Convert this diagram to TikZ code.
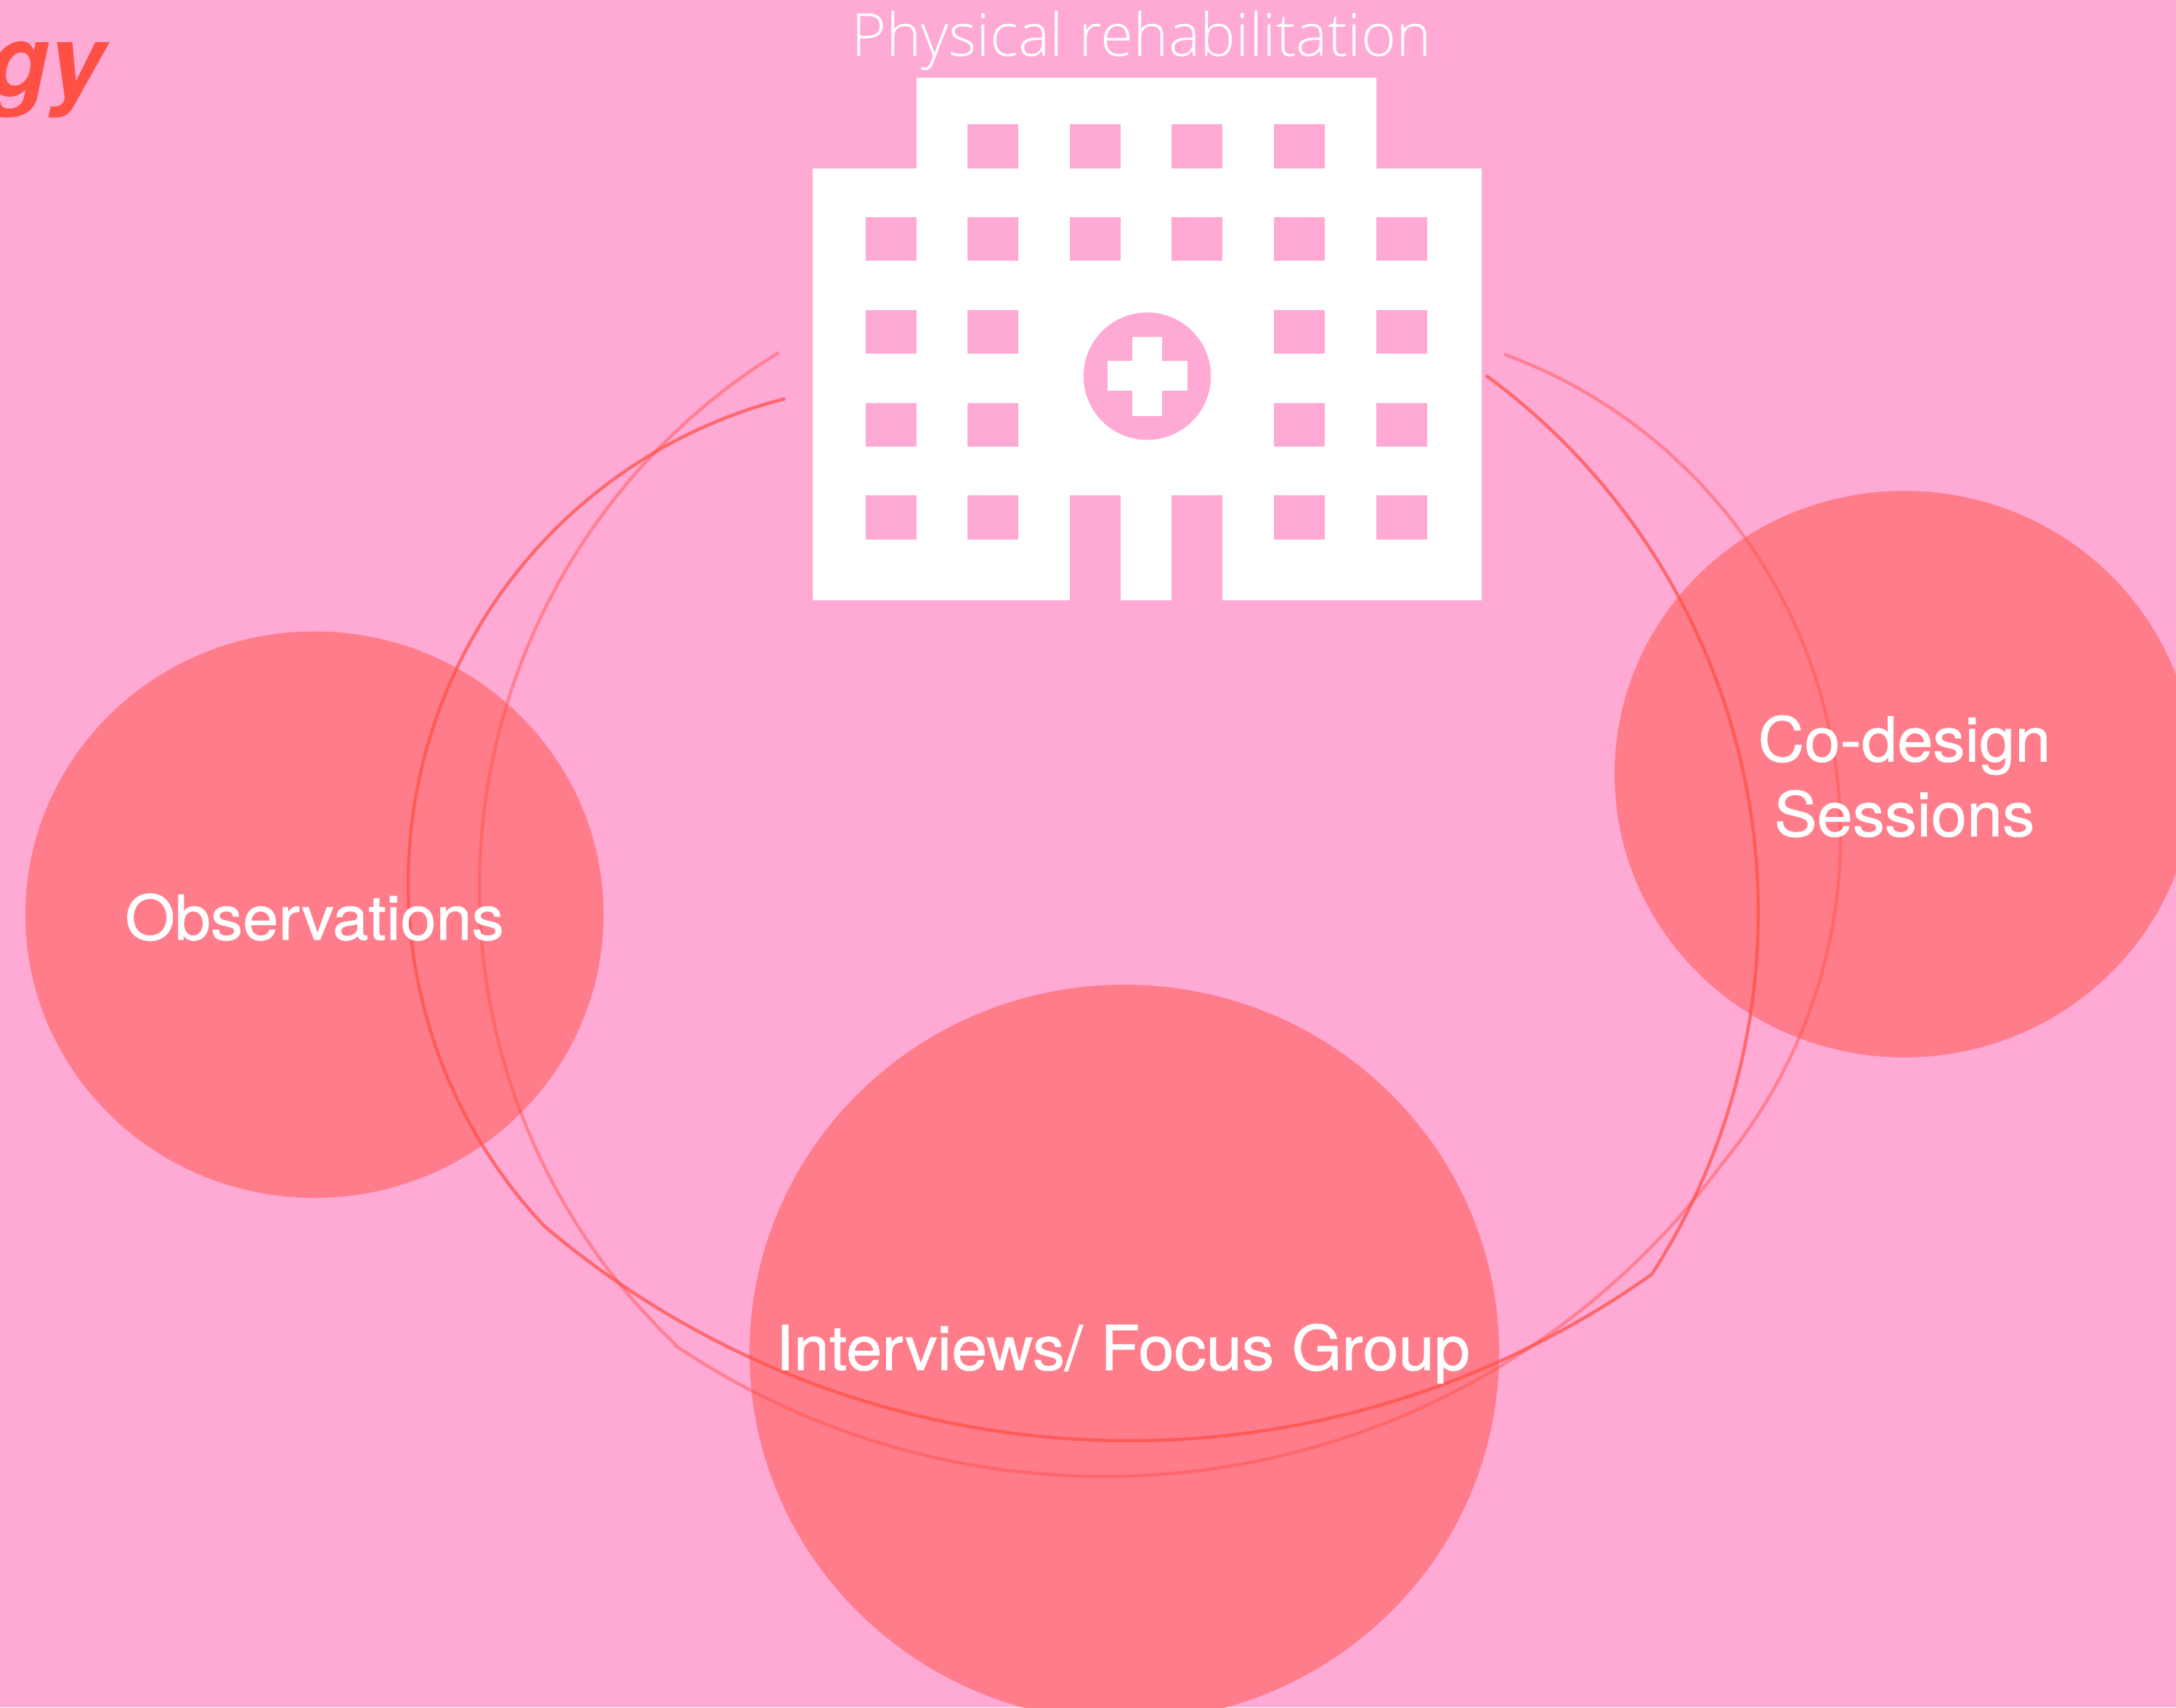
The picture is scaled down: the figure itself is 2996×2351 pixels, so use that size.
\documentclass[tikz,border=0pt]{standalone}
\usepackage{fontspec}
\setmainfont{TeX Gyre Heros}
\newfontfamily\lightfont{Open Sans Light}
\newfontfamily\medfont[FakeBold=0.9,FakeStretch=1.04]{TeX Gyre Heros}
\definecolor{bgpink}{HTML}{FFA9D5}
\definecolor{blobred}{HTML}{FF7C8A}
\definecolor{linered}{HTML}{FF5045}
\usetikzlibrary{shapes.geometric}
\tikzset{
  blob/.style={ellipse,fill=blobred,inner sep=0pt},
  lbl/.style={text=white,inner sep=0pt,font=\medfont\fontsize{85}{103}\selectfont},
  win/.style={fill=bgpink},
  pathstrong/.style={draw=linered,draw opacity=0.72,line width=4.5pt,line join=round},
  pathweak/.style={draw=linered,draw opacity=0.45,line width=4.5pt,line join=round},
  arcplot/.style={samples=90,smooth}
}
\begin{document}
\begin{tikzpicture}[x=1pt,y=-1pt]
\useasboundingbox (0,0) rectangle (2996,2351);
\clip (0,0) rectangle (2996,2351);
\fill[bgpink] (0,0) rectangle (2996,2351);
% discs
\node[blob,minimum width=796pt,minimum height=780pt] (obs) at (433,1259.5) {};
\node[blob,minimum width=1032pt,minimum height=1014pt] (int) at (1548,1863) {};
\node[blob,minimum width=798pt,minimum height=780pt] (cod) at (2622,1066) {};
% hospital
\fill[white] (1119,232) -- (1262,232) -- (1262,107) -- (1895,107) -- (1895,232) -- (2040,232)
  -- (2040,826.5) -- (1119,826.5) -- cycle;
\foreach \x in {1332,1473,1613,1754} \fill[win] (\x,171) rectangle +(70,61);
\foreach \x in {1192,1332,1473,1613,1754,1895} \fill[win] (\x,299) rectangle +(70,60);
\foreach \x in {1192,1332,1754,1895} {
  \fill[win] (\x,427) rectangle +(70,60);
  \fill[win] (\x,554.5) rectangle +(70,60);
  \fill[win] (\x,682) rectangle +(70,60.5);
}
\fill[win] (1473,682) rectangle (1543,826.5);
\fill[win] (1613,682) rectangle (1683,826.5);
\fill[win] (1579.5,518) circle [radius=87.7];
\fill[white] (1559,463.5) rectangle (1600,572.5);
\fill[white] (1524.5,497) rectangle (1634.5,538.2);
% weak line
\draw[pathweak]
  plot[arcplot,domain=238.42:133.5] ({1526+866*cos(\x)},{1223+866*sin(\x)})
  -- plot[arcplot,domain=124.04:36.48] ({1520.1+1056*cos(\x)},{977.2+1056*sin(\x)})
  -- plot[arcplot,domain=39.98:-69.84] ({1827.6+706.5*cos(\x)},{1151+706.5*sin(\x)});
% strong line
\draw[pathstrong]
  plot[arcplot,domain=255.75:136.6] ({1250.4+688.4*cos(\x)},{1216.2+688.4*sin(\x)})
  -- plot[arcplot,domain=130.28:54.69] ({1554.6+1244.5*cos(\x)},{739.5+1244.5*sin(\x)})
  -- plot[arcplot,domain=32.86:-53.73] ({1503+917.9*cos(\x)},{1257+917.9*sin(\x)});
% texts
\node[lbl,anchor=base] (obstxt) at (433,1294) {Observations};
\node[lbl,anchor=base] (inttxt) at (1546,1886.5) {Interviews/ Focus Group};
\node[lbl,align=center] (codtxt) at (2622,1069) {Co-design\\Sessions};
\node[anchor=base,text=white,inner sep=0pt,font=\lightfont\fontsize{82}{82}\selectfont] (title) at (1571.5,77.5) {Physical rehabilitation};
\node[anchor=base east,text=linered,inner sep=0pt,font=\bfseries\itshape\fontsize{137}{137}\selectfont] (gy) at (144,132) {gy};
\end{tikzpicture}
\end{document}
